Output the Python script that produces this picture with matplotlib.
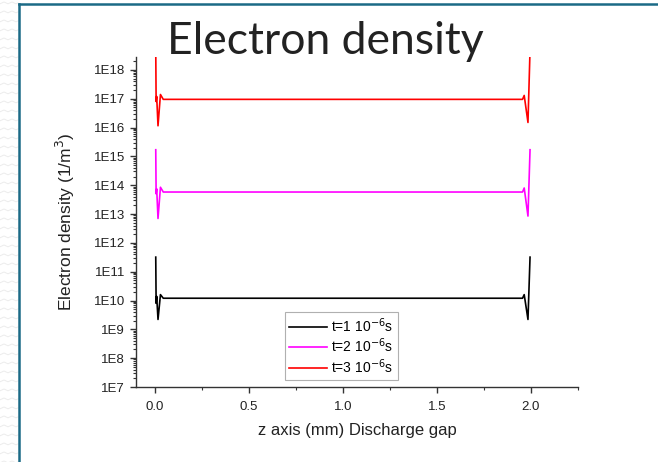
import numpy as np
import matplotlib
matplotlib.use("Agg")
import matplotlib.pyplot as plt
from matplotlib.lines import Line2D
from matplotlib.ticker import LogLocator, FuncFormatter, MultipleLocator, NullFormatter

# z positions (mm) where the curves change shape; flat in between
z = [0.005, 0.007, 0.010, 0.017, 0.030, 0.045, 1.0, 1.955, 1.964, 1.984, 1.995]

# electron density (1/m^3)
n_t1 = [3.2e11, 8.0e9, 1.4e10, 2.2e9, 1.6e10, 1.2e10, 1.2e10, 1.2e10, 1.6e10, 2.2e9, 3.2e11]
n_t2 = [1.7e15, 5.0e13, 7.5e13, 7.0e12, 8.5e13, 5.8e13, 5.8e13, 5.8e13, 8.0e13, 8.5e12, 1.7e15]
n_t3 = [5.0e18, 8.0e16, 1.2e17, 1.15e16, 1.4e17, 9.5e16, 9.5e16, 9.5e16, 1.3e17, 1.5e16, 5.0e18]

labels = ["t=1 10$^{-6}$s", "t=2 10$^{-6}$s", "t=3 10$^{-6}$s"]
colors = ["black", "#ff00ff", "#ff0000"]

plt.rcParams['font.family'] = ['Liberation Sans', 'DejaVu Sans']

fig = plt.figure(figsize=(6.58, 4.62), dpi=100)
W, H = 658.0, 462.0

# slide decoration: faint zigzag strip on the left, teal frame
xs = np.arange(0, 18.5, 0.5)
for row in np.arange(2, H, 9):
    ys = row + 1.8 * np.abs(((xs / 4.0) % 2) - 1)
    fig.add_artist(Line2D(xs / W, 1 - ys / H, color="#ececec", lw=0.7))
fig.add_artist(Line2D([18.5 / W, 18.5 / W], [0, 1 - 4 / H], color="#1b6a86", lw=1.8))
fig.add_artist(Line2D([18.5 / W, 1], [1 - 4 / H, 1 - 4 / H], color="#1b6a86", lw=1.8))

fig.text(325 / W, 1 - 54 / H, "Electron density", family=["Lato", "DejaVu Sans"],
         fontsize=32, color="#222222", ha="center", va="baseline")

ax = fig.add_axes([136 / W, 1 - 387 / H, (578 - 136) / W, (387 - 57) / H])
for n, lab, c in zip([n_t1, n_t2, n_t3], labels, colors):
    ax.plot(z, n, color=c, lw=1.2, label=lab)

ax.set_yscale("log")
ax.set_ylim(1e7, 2.8e18)
ax.set_xlim(-0.1, 2.25)
ax.yaxis.set_major_locator(LogLocator(base=10, numticks=20))
ax.yaxis.set_minor_locator(LogLocator(base=10, subs=np.arange(2, 10), numticks=20))
ax.yaxis.set_minor_formatter(NullFormatter())
ax.yaxis.set_major_formatter(FuncFormatter(lambda v, p: "1E%d" % round(np.log10(v))))
ax.xaxis.set_major_locator(MultipleLocator(0.5))
ax.xaxis.set_minor_locator(MultipleLocator(0.25))
ax.xaxis.set_major_formatter(FuncFormatter(lambda v, p: "%.1f" % v))

for s in ["top", "right"]:
    ax.spines[s].set_visible(False)
for s in ["left", "bottom"]:
    ax.spines[s].set_linewidth(1.0)
    ax.spines[s].set_color("#333333")
ax.tick_params(which="major", direction="out", length=4, width=1, labelsize=9.5, pad=4, colors="#333333")
ax.tick_params(which="minor", direction="out", length=2.5, width=0.8, colors="#333333")
ax.tick_params(axis="y", labelcolor="#222222")
ax.tick_params(axis="x", labelcolor="#222222", pad=6)

ax.set_xlabel("z axis (mm) Discharge gap", fontsize=12, color="#222222", labelpad=7)
ax.set_ylabel("Electron density (1/m$^3$)", fontsize=12.5, color="#222222", labelpad=12)

leg = ax.legend(loc="lower left", bbox_to_anchor=(0.337, 0.021), borderaxespad=0,
                fontsize=10, fancybox=False, framealpha=1, edgecolor="#b0b0b0",
                handlelength=2.7, handletextpad=0.35, labelspacing=0.15, borderpad=0.3)
leg.get_frame().set_linewidth(0.8)

fig.savefig("out.png", dpi=100, facecolor="white")
